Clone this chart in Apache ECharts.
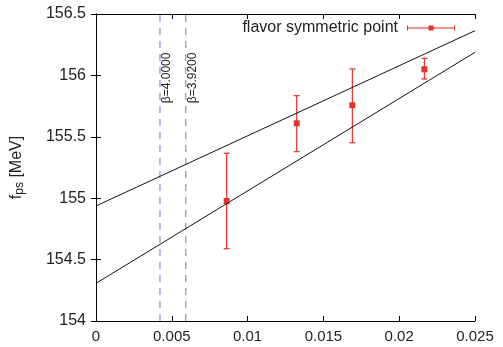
<!DOCTYPE html>
<html>
<head>
<meta charset="utf-8">
<script src="https://cdn.jsdelivr.net/npm/echarts@6/dist/echarts.min.js"></script>
<style>
  html, body { margin: 0; padding: 0; background: #fff; }
  #chart { width: 503px; height: 347px; }
</style>
</head>
<body>
<div id="chart"></div>
<script>
// data
const pointX = [0.00862, 0.01324, 0.01691, 0.02166];
const pointY = [154.977, 155.61, 155.757, 156.05];
const errLow = [154.589, 155.379, 155.452, 155.971];
const errHigh = [155.366, 155.835, 156.052, 156.139];

const upperLine = [[0, 154.937], [0.025, 156.364]];
const lowerLine = [[0, 154.307], [0.025, 156.188]];

const betaX = [0.00422, 0.00592];
const betaLabels = ["β=4.0000", "β=3.9200"];

const xTicks = ["0", "0.005", "0.01", "0.015", "0.02", "0.025"];

const font = "Liberation Sans";
const red = "#e2342a";
const blue = "#8390cc";

const chart = echarts.init(document.getElementById("chart"));

const points = pointX.map((x, i) => [x, pointY[i], errLow[i], errHigh[i]]);

const option = {
  animation: false,
  grid: { left: 96, right: 28, top: 14, bottom: 26 },
  legend: {
    right: 43,
    top: 15,
    align: "right",
    itemWidth: 48,
    itemHeight: 8,
    icon: "path://M0,3.5h48v1h-48z M0,1.5h1v5h-1z M47,1.5h1v5h-1z M21.5,1.5h5v5h-5z",
    textStyle: { fontFamily: font, fontSize: 16, color: "#222", padding: [0, 4, 0, 0] },
    data: ["flavor symmetric point"],
  },
  xAxis: [
    {
      type: "value",
      min: 0,
      max: 0.025,
      interval: 0.005,
      axisLine: { lineStyle: { color: "#000", width: 1 } },
      axisTick: { inside: true, length: 5, lineStyle: { color: "#000" } },
      axisLabel: {
        margin: 8,
        fontFamily: font,
        fontSize: 15,
        color: "#222",
        formatter: (v) => xTicks[Math.round(v / 0.005)],
      },
      splitLine: { show: false },
    },
    {
      type: "value",
      position: "top",
      min: 0,
      max: 0.025,
      interval: 0.005,
      axisLine: { show: true, lineStyle: { color: "#000", width: 1 } },
      axisTick: { inside: true, length: 5, lineStyle: { color: "#000" } },
      axisLabel: { show: false },
      splitLine: { show: false },
    },
  ],
  yAxis: [
    {
      type: "value",
      min: 154,
      max: 156.5,
      interval: 0.5,
      name: "{f|f}{s|ps}{f| [MeV]}",
      nameLocation: "middle",
      nameGap: 70,
      nameTextStyle: {
        rich: {
          f: { fontFamily: font, fontSize: 16, color: "#222", lineHeight: 18 },
          s: { fontFamily: font, fontSize: 12, color: "#222", lineHeight: 18, verticalAlign: "bottom" },
        },
      },
      axisLine: { show: true, lineStyle: { color: "#000", width: 1 } },
      axisTick: { inside: true, length: 5, lineStyle: { color: "#000" } },
      axisLabel: { margin: 10, fontFamily: font, fontSize: 16, color: "#222" },
      splitLine: { show: false },
    },
    {
      type: "value",
      position: "right",
      min: 154,
      max: 156.5,
      interval: 0.5,
      axisLine: { show: true, lineStyle: { color: "#000", width: 1 } },
      axisTick: { inside: true, length: 5, lineStyle: { color: "#000" } },
      axisLabel: { show: false },
      splitLine: { show: false },
    },
  ],
  series: [
    {
      type: "line",
      data: [[betaX[0], 154], [betaX[0], 156.5]],
      showSymbol: false,
      lineStyle: { color: blue, width: 1.2, type: [7, 6] },
      silent: true,
    },
    {
      type: "line",
      data: [[betaX[1], 154], [betaX[1], 156.5]],
      showSymbol: false,
      lineStyle: { color: blue, width: 1.2, type: [7, 6] },
      silent: true,
    },
    {
      type: "custom",
      data: betaX.map((x, i) => [x, 155.98, i]),
      renderItem: (params, api) => {
        const p = api.coord([api.value(0), api.value(1)]);
        return {
          type: "text",
          x: p[0] + 7,
          y: p[1],
          rotation: Math.PI / 2,
          style: {
            text: betaLabels[api.value(2)],
            fontFamily: font,
            fontSize: 12,
            fill: "#222",
            align: "center",
            verticalAlign: "middle",
          },
        };
      },
      silent: true,
    },
    {
      type: "line",
      data: upperLine,
      showSymbol: false,
      lineStyle: { color: "#111", width: 1 },
      silent: true,
    },
    {
      type: "line",
      data: lowerLine,
      showSymbol: false,
      lineStyle: { color: "#111", width: 1 },
      silent: true,
    },
    {
      type: "custom",
      name: "flavor symmetric point",
      itemStyle: { color: red },
      data: points,
      renderItem: (params, api) => {
        const x = api.value(0);
        const c = api.coord([x, api.value(1)]);
        const lo = api.coord([x, api.value(2)]);
        const hi = api.coord([x, api.value(3)]);
        const line = { stroke: red, lineWidth: 1.2 };
        return {
          type: "group",
          children: [
            { type: "line", shape: { x1: lo[0], y1: lo[1], x2: hi[0], y2: hi[1] }, style: line },
            { type: "line", shape: { x1: lo[0] - 3, y1: lo[1], x2: lo[0] + 3, y2: lo[1] }, style: line },
            { type: "line", shape: { x1: hi[0] - 3, y1: hi[1], x2: hi[0] + 3, y2: hi[1] }, style: line },
            { type: "rect", shape: { x: c[0] - 3, y: c[1] - 3, width: 6, height: 6 }, style: { fill: red } },
          ],
        };
      },
    },
  ],
};

chart.setOption(option);
</script>
</body>
</html>
